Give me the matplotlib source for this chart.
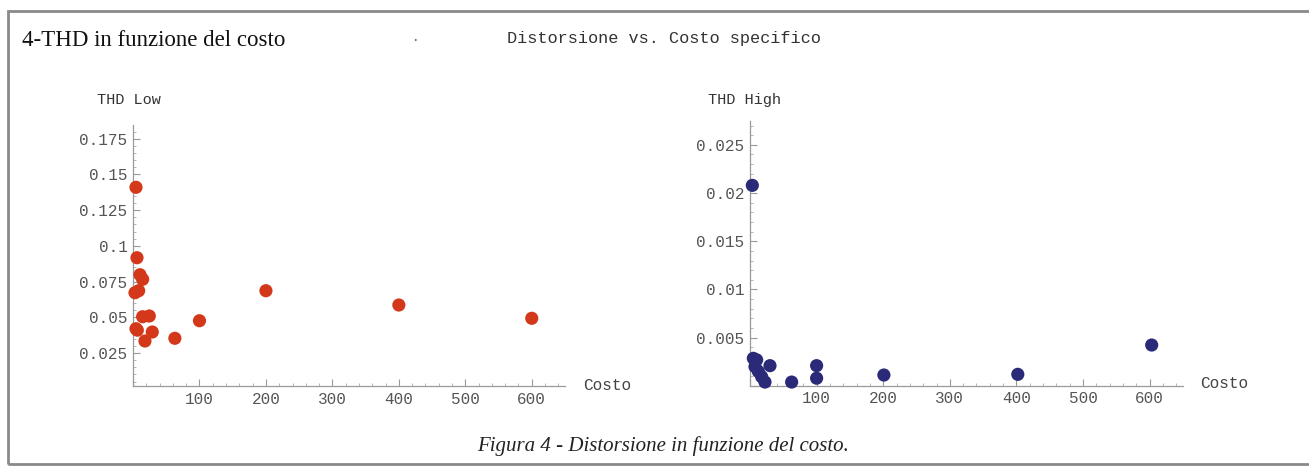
import matplotlib.pyplot as plt
from matplotlib.patches import Rectangle
from matplotlib.ticker import MultipleLocator, FuncFormatter

# costo specifico e distorsione armonica totale
costo_low = [4.5, 6, 10.5, 14.5, 8.5, 3, 14.5, 24.5, 6.5, 4.5, 29, 18, 63, 100, 200, 400, 600]
thd_low = [0.141, 0.0917, 0.0798, 0.0766, 0.0686, 0.0672, 0.0504, 0.0509, 0.041, 0.042,
           0.0397, 0.0334, 0.0353, 0.0476, 0.0686, 0.0586, 0.0493]

costo_high = [3.5, 5, 10, 7.5, 12.5, 17.5, 22.5, 30, 62.5, 100, 100, 201, 402, 603]
thd_high = [0.0208, 0.00286, 0.0027, 0.002, 0.0015, 0.00095, 0.0004, 0.0021, 0.0004,
            0.0021, 0.0008, 0.00113, 0.0012, 0.00424]

mono = "Liberation Mono"
serif = "Liberation Serif"

fig = plt.figure(figsize=(13.09, 4.68), dpi=100)


def style_axes(ax, ymajor, yminor):
    for s in ("top", "right"):
        ax.spines[s].set_visible(False)
    for s in ("left", "bottom"):
        ax.spines[s].set_color("#999999")
        ax.spines[s].set_linewidth(0.9)
    ax.patch.set_alpha(0)
    ax.xaxis.set_major_locator(MultipleLocator(100))
    ax.xaxis.set_minor_locator(MultipleLocator(20))
    ax.yaxis.set_major_locator(MultipleLocator(ymajor))
    ax.yaxis.set_minor_locator(MultipleLocator(yminor))
    ax.xaxis.set_major_formatter(FuncFormatter(lambda v, p: "" if v <= 0 else "%g" % v))
    ax.yaxis.set_major_formatter(FuncFormatter(lambda v, p: "" if v <= 0.0001 else "%g" % round(v, 4)))
    ax.tick_params(which="major", direction="in", length=5, width=0.8, color="#999999",
                   labelcolor="#555555", labelsize=11.5, pad=4)
    ax.tick_params(which="minor", direction="in", length=2.5, width=0.6, color="#aaaaaa")
    for lab in ax.get_xticklabels() + ax.get_yticklabels():
        lab.set_family(mono)


# THD Low
ax1 = fig.add_axes([133 / 1309, 0.1752, 432 / 1309, 0.558])
ax1.scatter(costo_low, thd_low, s=90, color="#d4381a", edgecolors="none", zorder=3, clip_on=False)
ax1.set_xlim(0, 650)
ax1.set_ylim(0.0019, 0.1847)
style_axes(ax1, 0.025, 0.005)
fig.text(97 / 1309, 1 - 100 / 468, "THD Low", family=mono, fontsize=11, color="#333333", va="center")
fig.text(583 / 1309, 1 - 386 / 468, "Costo", family=mono, fontsize=11.5, color="#444444", va="center")

# THD High
ax2 = fig.add_axes([750 / 1309, 0.1754, 433 / 1309, 0.5666])
ax2.scatter(costo_high, thd_high, s=90, color="#2b2a78", edgecolors="none", zorder=3, clip_on=False)
ax2.set_xlim(0, 650)
ax2.set_ylim(0, 0.0275)
style_axes(ax2, 0.005, 0.001)
fig.text(708 / 1309, 1 - 100 / 468, "THD High", family=mono, fontsize=11, color="#333333", va="center")
fig.text(1200 / 1309, 1 - 384 / 468, "Costo", family=mono, fontsize=11.5, color="#444444", va="center")

# intestazione e didascalia
fig.text(22 / 1309, 1 - 40 / 468, "4-THD in funzione del costo", family=serif, fontsize=16.5,
         color="#111111", va="center")
fig.text(412 / 1309, 1 - 42 / 468, "\u00b7", family=serif, fontsize=12, color="#666666", va="center")
fig.text(507 / 1309, 1 - 38 / 468, "Distorsione vs. Costo specifico", family=mono, fontsize=12.2,
         color="#333333", va="center")
fig.text(663 / 1309, 1 - 446 / 468, "Figura 4 - Distorsione in funzione del costo.", family=serif,
         style="italic", fontsize=15, color="#222222", ha="center", va="center")

# cornice
fig.patches.append(Rectangle((8 / 1309, 4 / 468), 1.0, 453 / 468, transform=fig.transFigure,
                             fill=False, edgecolor="#8a8a8a", linewidth=2))

fig.savefig("out.png", dpi=100)
